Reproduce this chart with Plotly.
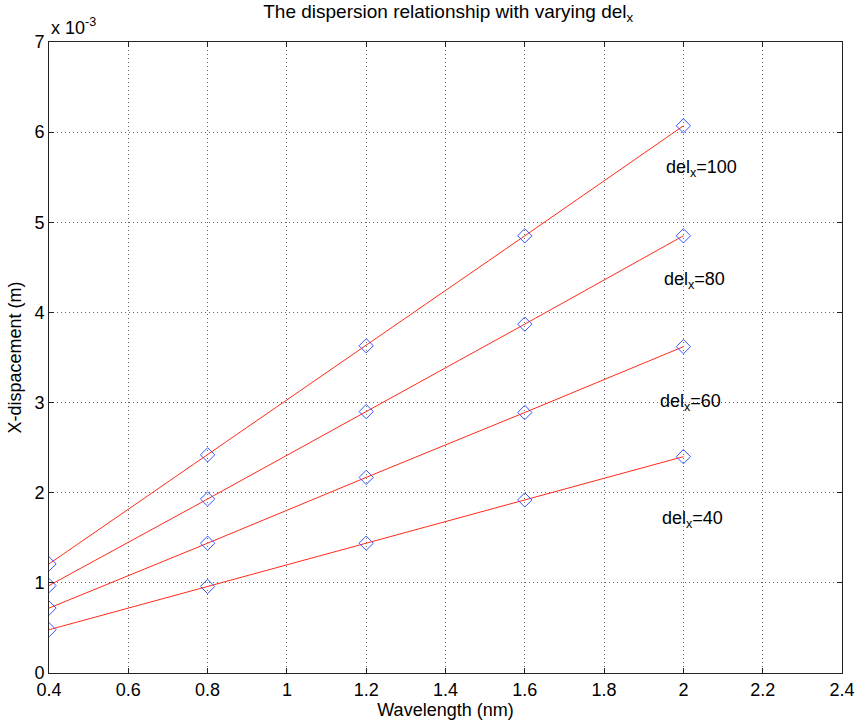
import plotly.graph_objects as go

# Wavelength samples (nm)
wavelength = [0.4, 0.8, 1.2, 1.6, 2.0]

# X-displacement in units of 1e-3 m, one series per del_x value
disp_del100 = [1.21, 2.42, 3.63, 4.85, 6.07]
disp_del80 = [0.97, 1.93, 2.90, 3.87, 4.85]
disp_del60 = [0.72, 1.44, 2.17, 2.89, 3.62]
disp_del40 = [0.48, 0.96, 1.44, 1.92, 2.40]

series = [disp_del100, disp_del80, disp_del60, disp_del40]

# Label text and anchor positions (data units)
label_text = ["del<sub>x</sub>=100", "del<sub>x</sub>=80", "del<sub>x</sub>=60", "del<sub>x</sub>=40"]
label_x = [1.95, 1.945, 1.935, 1.94]
label_y = [5.6, 4.35, 3.0, 1.7]

x_ticks = [0.4, 0.6, 0.8, 1.0, 1.2, 1.4, 1.6, 1.8, 2.0, 2.2, 2.4]
x_ticktext = ["0.4", "0.6", "0.8", "1", "1.2", "1.4", "1.6", "1.8", "2", "2.2", "2.4"]
y_ticks = [0, 1, 2, 3, 4, 5, 6, 7]

font_family = "Liberation Sans, Arial, sans-serif"
fsize = 18

fig = go.Figure()
for ys in series:
    fig.add_trace(go.Scatter(
        x=wavelength, y=ys, mode="lines+markers",
        line=dict(color="#ff2a1a", width=1),
        marker=dict(symbol="diamond-open", size=11, color="#3355ff",
                    line=dict(width=1, color="#3355ff")),
        showlegend=False,
    ))

for t, lx, ly in zip(label_text, label_x, label_y):
    fig.add_annotation(x=lx, y=ly, text=t, showarrow=False,
                       xanchor="left", yanchor="middle",
                       font=dict(size=fsize, color="black", family=font_family))

fig.add_annotation(xref="paper", yref="paper", x=0, y=1, yshift=2,
                   text="x 10<sup>-3</sup>", showarrow=False,
                   xanchor="left", yanchor="bottom",
                   font=dict(size=fsize, color="black", family=font_family))

axis_common = dict(
    showline=True, linecolor="#222222", linewidth=1, mirror="allticks",
    ticks="inside", ticklen=5, tickcolor="#222222",
    showgrid=True, gridcolor="#666666", griddash="1px,3px", gridwidth=1,
    zeroline=False, tickfont=dict(size=fsize, color="black", family=font_family),
)

fig.update_xaxes(range=[0.4, 2.4], tickvals=x_ticks, ticktext=x_ticktext,
                 title=dict(text="Wavelength (nm)", standoff=2,
                            font=dict(size=fsize, color="black", family=font_family)),
                 **axis_common)
fig.update_yaxes(range=[0, 7], tickvals=y_ticks,
                 title=dict(text="X-dispacement (m)", standoff=8,
                            font=dict(size=fsize, color="black", family=font_family)),
                 **axis_common)

fig.update_layout(
    width=867, height=728,
    margin=dict(l=49, r=17, t=42, b=55),
    paper_bgcolor="white", plot_bgcolor="white",
    title=dict(text="The dispersion relationship with varying del<sub>x</sub>",
               x=0.517, xanchor="center", y=0.993, yanchor="top",
               font=dict(size=19, color="black", family=font_family)),
)

fig.write_html("out.html")
